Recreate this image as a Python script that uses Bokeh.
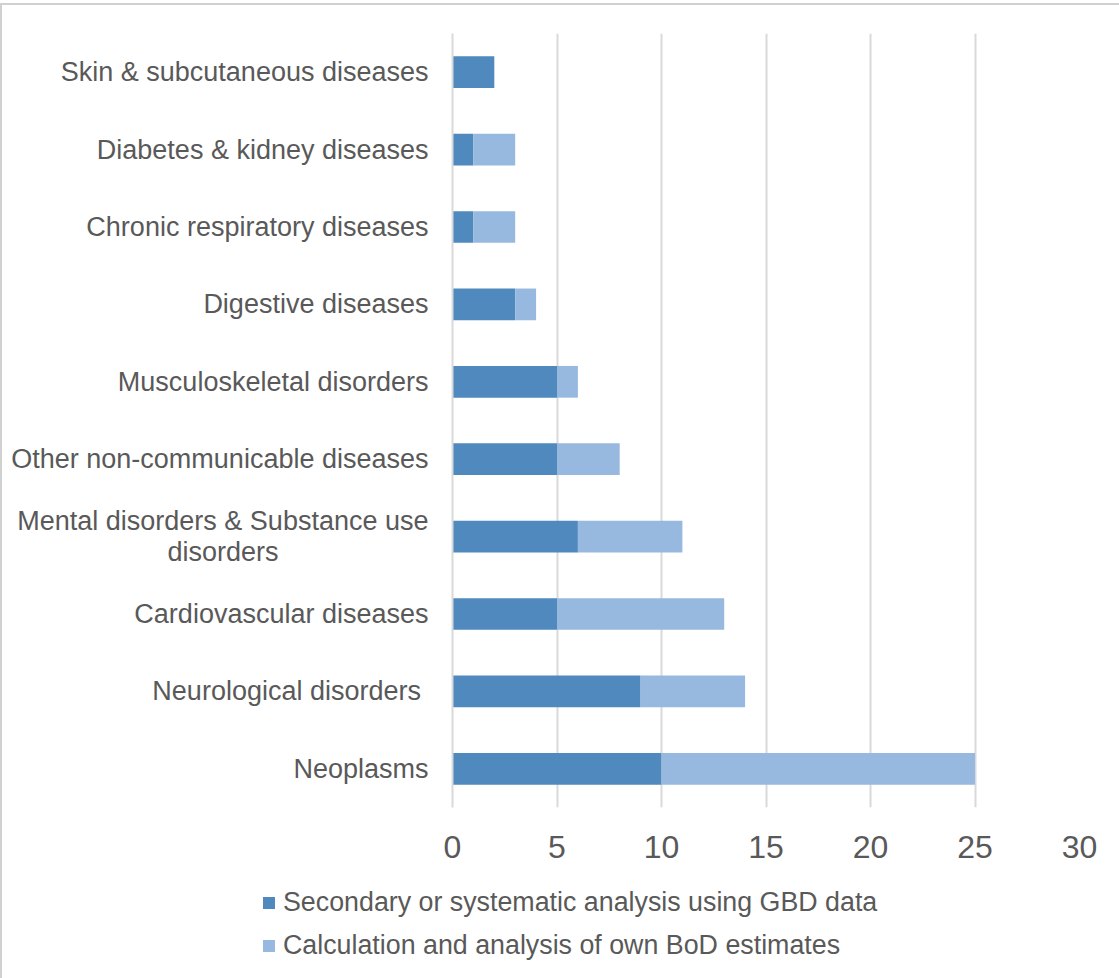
from bokeh.plotting import figure
from bokeh.layouts import column
from bokeh.models import FactorRange, Range1d, FixedTicker, Div
from bokeh.embed import file_html
from bokeh.resources import INLINE

# ---- data (top to bottom as in the chart) ----
categories = [
    "Skin & subcutaneous diseases",
    "Diabetes & kidney diseases",
    "Chronic respiratory diseases",
    "Digestive diseases",
    "Musculoskeletal disorders",
    "Other non-communicable diseases",
    "Mental disorders & Substance use\ndisorders" + " " * 20,
    "Cardiovascular diseases",
    "Neurological disorders ",
    "Neoplasms",
]
secondary_gbd = [2, 1, 1, 3, 5, 5, 6, 5, 9, 10]
own_bod = [0, 2, 2, 1, 1, 3, 5, 8, 5, 15]
series_names = [
    "Secondary or systematic analysis using GBD data",
    "Calculation and analysis of own BoD estimates",
]
x_ticks = [0, 5, 10, 15, 20, 25, 30]

# bottom-to-top order for Bokeh factor range
cats_bt = categories[::-1]
data = {
    "cat": cats_bt,
    "gbd": secondary_gbd[::-1],
    "own": own_bod[::-1],
}

DARK = "#4f89bd"
LIGHT = "#97b9e0"
TEXT = "#595959"
GRID = "#d9d9d9"
FONT = "Liberation Sans"

p = figure(
    width=1117, height=863,
    y_range=FactorRange(factors=cats_bt, range_padding=0),
    x_range=Range1d(0, 30),
    output_backend="svg", toolbar_location=None,
    min_border_left=450, min_border_right=40,
    min_border_top=28, min_border_bottom=61,
)
p.frame_width = 627
p.frame_height = 774

renderers = p.hbar_stack(["gbd", "own"], y="cat", height=0.41, color=[DARK, LIGHT],
                         source=data, line_width=0)

p.outline_line_color = None
p.background_fill_color = "white"
p.border_fill_color = "white"

# x axis
p.xaxis.ticker = FixedTicker(ticks=x_ticks)
p.xaxis.axis_line_color = None
p.xaxis.major_tick_line_color = None
p.xaxis.major_tick_out = 0
p.xaxis.minor_tick_line_color = None
p.xaxis.major_label_text_font = FONT
p.xaxis.major_label_text_font_size = "32px"
p.xaxis.major_label_text_color = TEXT
p.xaxis.major_label_standoff = 28

# y axis
p.yaxis.axis_line_color = GRID
p.yaxis.axis_line_width = 2
p.yaxis.major_tick_line_color = None
p.yaxis.major_tick_out = 0
p.yaxis.minor_tick_line_color = None
p.yaxis.major_label_text_font = FONT
p.yaxis.major_label_text_font_size = "27px"
p.yaxis.major_label_text_color = TEXT
p.yaxis.major_label_text_line_height = 1.05
p.yaxis.major_label_standoff = 24

p.xgrid.grid_line_color = GRID
p.xgrid.grid_line_width = 2
p.ygrid.grid_line_color = None

# ---- legend (HTML) below the chart ----
def legend_row(top, color, label):
    return (
        f'<div style="position:absolute;left:256px;top:{top}px;height:31px;'
        f'display:flex;align-items:center;white-space:nowrap;">'
        f'<span style="display:inline-block;width:12px;height:12px;background:{color};'
        f'margin-right:8px;"></span>'
        f'<span style="font-family:\'{FONT}\';font-size:26.8px;line-height:31px;color:{TEXT};">'
        f'{label}</span></div>'
    )

legend_html = (
    '<div style="position:relative;width:1117px;height:110px;">'
    + legend_row(14, DARK, series_names[0])
    + legend_row(57, LIGHT, series_names[1])
    + '</div>'
)
leg = Div(text=legend_html, width=1117, height=110)

layout = column(p, leg, spacing=0)
layout.styles = {
    "margin-top": "3px",
    "border-top": "2px solid #d0d0d0",
    "border-left": "2px solid #d0d0d0",
}

open("out.html", "w").write(file_html(layout, INLINE))
